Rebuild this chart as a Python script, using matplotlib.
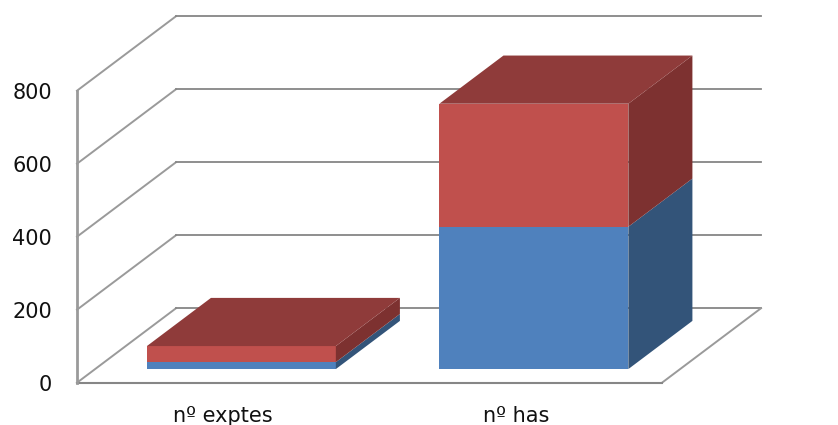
import matplotlib
matplotlib.use('Agg')
import matplotlib.pyplot as plt
from matplotlib.patches import Polygon

categories = ['nº exptes', 'nº has']
serie_1 = [19, 390]
serie_2 = [44, 337]
yticks = [0, 200, 400, 600, 800]

# oblique 3d look: one unit of depth moves a point right and up
DX = 0.3385
DY = 204.0
BAR_W = 0.646
D0 = 0.183
D1 = 0.83

grid_c = '#868686'
wall_c = '#9a9a9a'
blue = '#4f81bd'
blue_side = '#335479'
red = '#c0504d'
red_side = '#7d3130'
top_c = '#8f3b3a'


def pr(x, d, y):
    return (x + d * DX, y + d * DY)


def box(ax, x0, y0, y1, front, side):
    x1 = x0 + BAR_W
    ax.add_patch(Polygon([pr(x0, D0, y0), pr(x1, D0, y0), pr(x1, D0, y1), pr(x0, D0, y1)],
                         closed=True, fc=front, ec='none', zorder=3))
    ax.add_patch(Polygon([pr(x1, D0, y0), pr(x1, D1, y0), pr(x1, D1, y1), pr(x1, D0, y1)],
                         closed=True, fc=side, ec='none', zorder=3))


def plot():
    fig = plt.figure(figsize=(8.38, 4.25), dpi=100)
    ax = fig.add_axes([0, 0, 1, 1])
    ax.set_xlim(-77 / 292.5, (838 - 77) / 292.5)
    ax.set_ylim(-(425 - 382.7) / 0.365, 382.7 / 0.365)
    ax.axis('off')

    n = len(categories)
    for t in yticks:
        xs = [pr(0, 0, t)[0], pr(0, 1, t)[0], pr(n, 1, t)[0]]
        ys = [pr(0, 0, t)[1], pr(0, 1, t)[1], pr(n, 1, t)[1]]
        ax.plot(xs[:2], ys[:2], color=wall_c, lw=1.4, zorder=1)
        ax.plot(xs[1:], ys[1:], color=grid_c, lw=1.3, zorder=1)
        ax.text(-25 / 292.5, t, str(t), ha='right', va='center_baseline',
                fontsize=15, color='#111111')

    # floor and left edge
    ax.plot([0, n], [0, 0], color=grid_c, lw=1.5, zorder=2)
    ax.plot([pr(n, 0, 0)[0], pr(n, 1, 0)[0]], [0, DY], color=wall_c, lw=1.4, zorder=1)
    ax.plot([0, 0], [0, 800], color=wall_c, lw=2.0, zorder=2)

    for i, cat in enumerate(categories):
        x0 = i + 0.5 - BAR_W / 2
        b = serie_1[i]
        t = b + serie_2[i]
        box(ax, x0, 0, b, blue, blue_side)
        box(ax, x0, b, t, red, red_side)
        ax.add_patch(Polygon([pr(x0, D0, t), pr(x0 + BAR_W, D0, t),
                              pr(x0 + BAR_W, D1, t), pr(x0, D1, t)],
                             closed=True, fc=top_c, ec='none', zorder=3))
        ax.text(i + 0.5, -107.5, cat, ha='center', va='baseline',
                fontsize=15, color='#111111')

    fig.savefig('out.png', dpi=100)


if __name__ == '__main__':
    plot()
